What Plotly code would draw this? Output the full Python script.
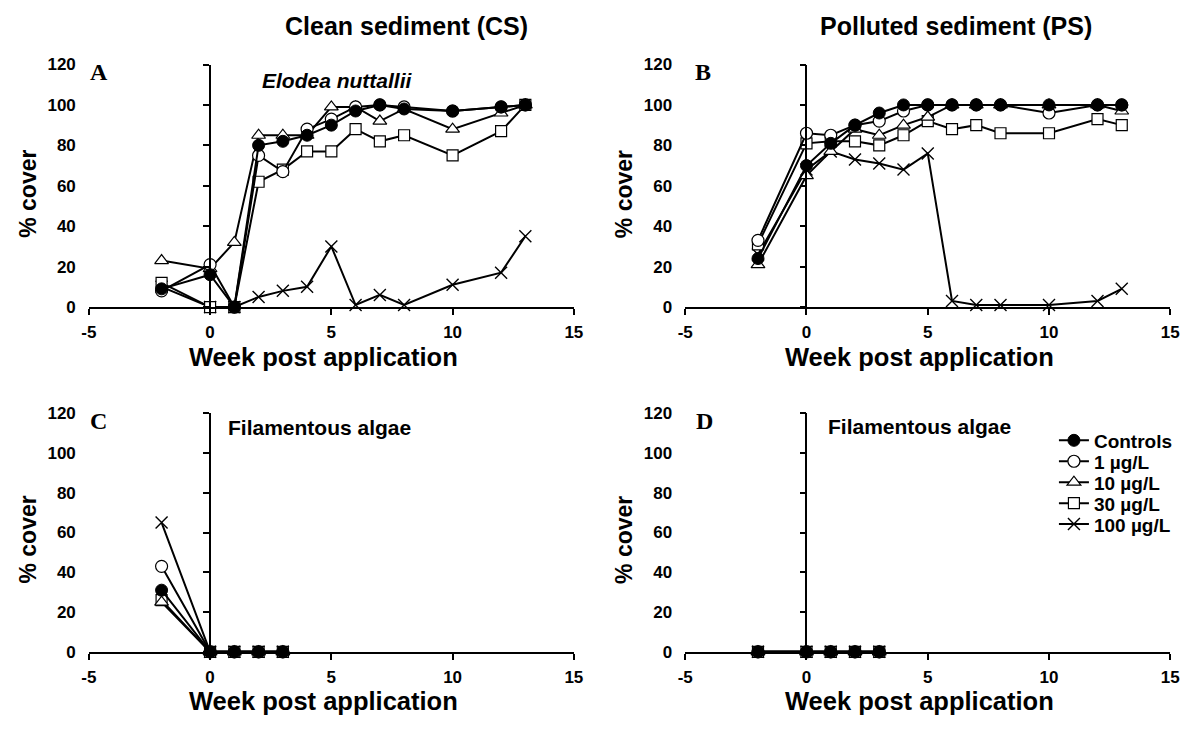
import plotly.graph_objects as go

# ---------------- data ----------------
weeks_elodea = [-2, 0, 1, 2, 3, 4, 5, 6, 7, 8, 10, 12, 13]
weeks_algae = [-2, 0, 1, 2, 3]

series_names = ["Controls", "1 µg/L", "10 µg/L", "30 µg/L", "100 µg/L"]

# Panel A: Elodea nuttallii, clean sediment
cs_elodea_controls = [9, 16, 0, 80, 82, 85, 90, 97, 100, 98, 97, 99, 100]
cs_elodea_1 = [8, 21, 0, 75, 67, 88, 93, 99, 100, 99, 97, 99, 100]
cs_elodea_10 = [23, 19, 32, 85, 85, 85, 99, 99, 92, 98, 88, 96, 100]
cs_elodea_30 = [12, 0, 0, 62, 68, 77, 77, 88, 82, 85, 75, 87, 100]
cs_elodea_100 = [10, 0, 0, 5, 8, 10, 30, 1, 6, 1, 11, 17, 35]

# Panel B: Elodea nuttallii, polluted sediment
ps_elodea_controls = [24, 70, 81, 90, 96, 100, 100, 100, 100, 100, 100, 100, 100]
ps_elodea_1 = [33, 86, 85, 90, 92, 97, 100, 100, 100, 100, 96, 100, 100]
ps_elodea_10 = [21, 65, 77, 88, 85, 90, 94, 100, 100, 100, 100, 100, 97]
ps_elodea_30 = [31, 81, 82, 82, 80, 85, 92, 88, 90, 86, 86, 93, 90]
ps_elodea_100 = [26, 68, 77, 73, 71, 68, 76, 3, 1, 1, 1, 3, 9]

# Panel C: filamentous algae, clean sediment
cs_algae_controls = [31, 0, 0, 0, 0]
cs_algae_1 = [43, 0, 0, 0, 0]
cs_algae_10 = [25, 0, 0, 0, 0]
cs_algae_30 = [26, 0, 0, 0, 0]
cs_algae_100 = [65, 0, 0, 0, 0]

# Panel D: filamentous algae, polluted sediment
ps_algae_controls = [0, 0, 0, 0, 0]
ps_algae_1 = [0, 0, 0, 0, 0]
ps_algae_10 = [0, 0, 0, 0, 0]
ps_algae_30 = [0, 0, 0, 0, 0]
ps_algae_100 = [0, 0, 0, 0, 0]

x_tick_vals = [-5, 0, 5, 10, 15]
x_tick_text = ["-5", "0", "5", "10", "15"]
y_tick_vals = [0, 20, 40, 60, 80, 100, 120]

# ---------------- styles ----------------
W, H = 1197, 730
FONT = "Liberation Sans, Arial, Helvetica, sans-serif"
SERIF = "Liberation Serif, Times New Roman, serif"

styles = {
    "Controls": dict(symbol="circle", size=12, color="black", line=dict(color="black", width=1)),
    "1 µg/L": dict(symbol="circle", size=12, color="white", line=dict(color="black", width=1.2)),
    "10 µg/L": dict(symbol="triangle-up", size=12, color="white", line=dict(color="black", width=1.2)),
    "30 µg/L": dict(symbol="square", size=11, color="white", line=dict(color="black", width=1.2)),
    "100 µg/L": dict(symbol="x-thin", size=12, color="black", line=dict(color="black", width=1.4)),
}

def px_x(p):
    return p / W

def px_y(p):
    return 1 - p / H

x_domains = [[82 / W, 574 / W], [687 / W, 1179 / W]]
y_domains = [[1 - 306 / H, 1 - 57 / H], [1 - 660 / H, 1 - 415 / H]]

panels = [
    dict(idx=1, col=0, row=0, weeks=weeks_elodea,
         data=[cs_elodea_controls, cs_elodea_1, cs_elodea_10, cs_elodea_30, cs_elodea_100]),
    dict(idx=2, col=1, row=0, weeks=weeks_elodea,
         data=[ps_elodea_controls, ps_elodea_1, ps_elodea_10, ps_elodea_30, ps_elodea_100]),
    dict(idx=3, col=0, row=1, weeks=weeks_algae,
         data=[cs_algae_controls, cs_algae_1, cs_algae_10, cs_algae_30, cs_algae_100]),
    dict(idx=4, col=1, row=1, weeks=weeks_algae,
         data=[ps_algae_controls, ps_algae_1, ps_algae_10, ps_algae_30, ps_algae_100]),
]

legend_ids = ["legend", "legend2", "legend3", "legend4", "legend5"]
legend_rows_px = [443, 464.5, 486, 507.5, 529]

fig = go.Figure()
layout = dict(
    width=W, height=H, margin=dict(l=0, r=0, t=0, b=0),
    paper_bgcolor="white", plot_bgcolor="rgba(0,0,0,0)",
    showlegend=True,
)

tickfont = dict(family=FONT, size=17, color="black", weight="bold")

for p in panels:
    i = p["idx"]
    xd = x_domains[p["col"]]
    yd = y_domains[p["row"]]
    xa = "x" if i == 1 else f"x{i}"
    ya = "y" if i == 1 else f"y{i}"
    ya_line = f"y{i + 4}"
    # draw order: highest concentration first, controls last (on top)
    for k in [4, 3, 2, 1, 0]:
        name = series_names[k]
        st = styles[name]
        show_leg = (i == 4)
        fig.add_trace(go.Scatter(
            x=p["weeks"], y=p["data"][k], name=name, mode="lines+markers",
            xaxis=xa, yaxis=ya, cliponaxis=False,
            line=dict(color="black", width=2),
            marker=dict(symbol=st["symbol"], size=st["size"], color=st["color"], line=st["line"]),
            showlegend=show_leg, legend=legend_ids[k],
            hoverinfo="skip",
        ))
    # empty trace to register the axis line drawn at x=0
    fig.add_trace(go.Scatter(x=[], y=[], xaxis=xa, yaxis=ya_line, showlegend=False, hoverinfo="skip"))

    xkey = "xaxis" if i == 1 else f"xaxis{i}"
    ykey = "yaxis" if i == 1 else f"yaxis{i}"
    layout[xkey] = dict(
        domain=xd, range=[-5, 15], tickvals=x_tick_vals, ticktext=x_tick_text,
        ticks="outside", ticklen=6,
        tickwidth=1.5, tickcolor="black", showline=True, linecolor="black", linewidth=1.5,
        showgrid=False, zeroline=False, anchor=ya, tickfont=tickfont, ticklabelstandoff=3,
        fixedrange=True,
    )
    layout[ykey] = dict(
        domain=yd, range=[0, 120], tickvals=y_tick_vals, ticks="", showline=False,
        showgrid=False, zeroline=False, anchor=xa, tickfont=tickfont, ticklabelstandoff=12,
        fixedrange=True,
    )
    layout[f"yaxis{i + 4}"] = dict(
        overlaying=ya, anchor="free", position=xd[0] + 0.25 * (xd[1] - xd[0]),
        range=[0, 120], tickvals=y_tick_vals, ticks="outside", ticklen=6, tickwidth=1.5,
        tickcolor="black", showline=True, linecolor="black", linewidth=1.5,
        showticklabels=False, showgrid=False, zeroline=False, fixedrange=True,
    )

for k, lid in enumerate(legend_ids):
    layout[lid] = dict(
        x=px_x(1061), y=px_y(legend_rows_px[k]), xanchor="left", yanchor="middle",
        bgcolor="rgba(0,0,0,0)", borderwidth=0, itemwidth=30,
        font=dict(family=FONT, size=19, color="black", weight="bold"),
        itemclick=False, itemdoubleclick=False,
    )

title_font = dict(family=FONT, size=25, color="black", weight="bold")
xtitle_font = dict(family=FONT, size=25.5, color="black", weight="bold")
ytitle_font = dict(family=FONT, size=23, color="black", weight="bold")
letter_font = dict(family=SERIF, size=24, color="black", weight="bold")
label_font = dict(family=FONT, size=21, color="black", weight="bold")

ann = []
def add_text(text, x, y, font, xanchor="center", textangle=0):
    ann.append(dict(text=text, x=px_x(x), y=px_y(y), xref="paper", yref="paper",
                    xanchor=xanchor, yanchor="middle", showarrow=False, font=font,
                    textangle=textangle))

add_text("Clean sediment (CS)", 404, 17, title_font)
add_text("Polluted sediment (PS)", 962, 17, title_font)
for letter, (lx, ly) in zip("ABCD", [(92, 65), (705, 65), (92, 423), (707, 423)]):
    add_text(letter, lx, ly, letter_font)
add_text("<i>Elodea nuttallii</i>", 334, 73, label_font)
add_text("Filamentous algae", 221, 430, label_font, xanchor="left")
add_text("Filamentous algae", 830, 429, label_font, xanchor="left")
for cx in [320, 925]:
    add_text("Week post application", cx, 357, xtitle_font)
    add_text("Week post application", cx, 711, xtitle_font)
for cx in [20, 625]:
    add_text("% cover", cx, 190, ytitle_font, textangle=-90)
    add_text("% cover", cx, 545, ytitle_font, textangle=-90)

layout["annotations"] = ann
fig.update_layout(**layout)
fig.write_html("out.html")
